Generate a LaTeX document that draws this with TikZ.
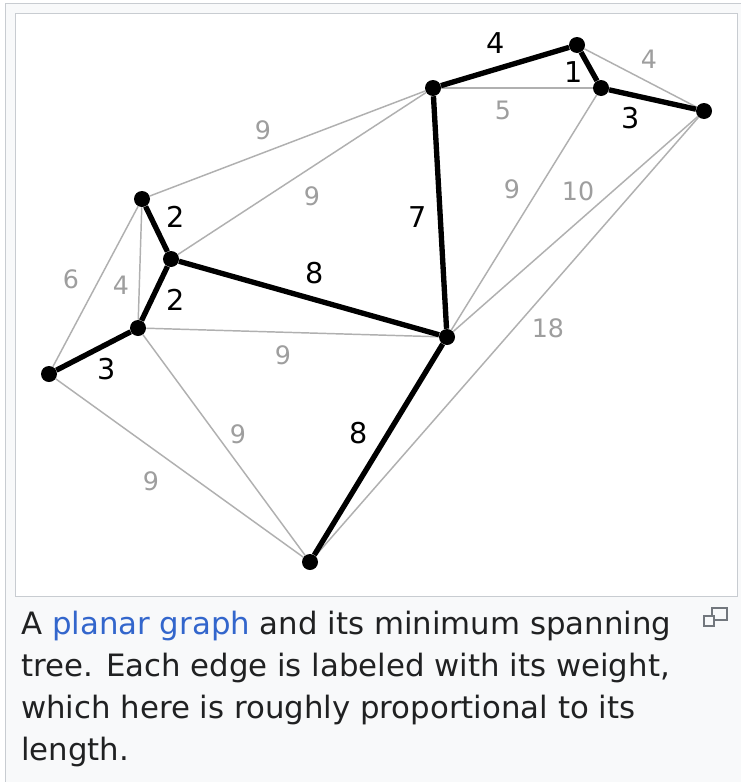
\documentclass[tikz,border=0pt]{standalone}
\usepackage{fontspec}
\setmainfont{DejaVu Sans}
\usetikzlibrary{positioning}
\definecolor{wbg}{HTML}{F8F9FA}
\definecolor{wline}{HTML}{C8CCD1}
\definecolor{wtext}{HTML}{202122}
\definecolor{wlink}{HTML}{3366CC}
\definecolor{wicon}{HTML}{72777D}
\definecolor{edgegray}{HTML}{B0B0B0}
\definecolor{labgray}{HTML}{9E9E9E}

\begin{document}
\begin{tikzpicture}[
    x=0.75pt,y=-0.75pt,
    vtx/.style={circle,fill=black,inner sep=0pt,minimum size=12pt},
    graphedge/.style={draw=edgegray,line width=1.1pt},
    mstedge/.style={draw=black,line width=4pt},
    glab/.style={text=labgray,inner sep=0pt,font=\fontsize{19}{19}\selectfont},
    blab/.style={text=black,inner sep=0pt,font=\fontsize{21.5}{21.5}\selectfont},
    capline/.style={anchor=base west,inner sep=0pt,text=wtext,font=\fontsize{23.1}{31}\selectfont}
]
\useasboundingbox (0,0) rectangle (740,782);

% thumbnail frame
\fill[white] (0,0) rectangle (740,782);
\draw[wline,fill=wbg,line width=0.75pt] (5,3) rectangle (760,800);
\draw[wline,fill=white,line width=0.75pt] (15,13) rectangle (737,596);

% vertices
\node[vtx] (A) at (142,199) {};
\node[vtx] (B) at (171,259) {};
\node[vtx] (C) at (138,328) {};
\node[vtx] (D) at (49,374) {};
\node[vtx] (E) at (433,88) {};
\node[vtx] (F) at (577,45) {};
\node[vtx] (G) at (601,88) {};
\node[vtx] (H) at (704,111) {};
\node[vtx] (I) at (447,337) {};
\node[vtx] (J) at (310,562) {};

% remaining edges of the graph, thin and grey
\draw[graphedge] (D) -- (A) node[glab] at (71,279) {6};
\draw[graphedge] (A) -- (C) node[glab] at (121,285) {4};
\draw[graphedge] (A) -- (E) node[glab] at (263,130) {9};
\draw[graphedge] (B) -- (E) node[glab] at (312,196) {9};
\draw[graphedge] (C) -- (I) node[glab] at (283,355) {9};
\draw[graphedge] (C) -- (J) node[glab] at (238,434) {9};
\draw[graphedge] (D) -- (J) node[glab] at (151,481) {9};
\draw[graphedge] (E) -- (G) node[glab] at (503,110) {5};
\draw[graphedge] (F) -- (H) node[glab] at (649,59) {4};
\draw[graphedge] (G) -- (I) node[glab] at (512,189) {9};
\draw[graphedge] (H) -- (I) node[glab] at (578,191) {10};
\draw[graphedge] (H) -- (J) node[glab] at (548,328) {18};

% minimum spanning tree, thick and black
\draw[mstedge] (A) -- (B) node[blab] at (176,217) {2};
\draw[mstedge] (B) -- (C) node[blab] at (176,300) {2};
\draw[mstedge] (C) -- (D) node[blab] at (107,369) {3};
\draw[mstedge] (B) -- (I) node[blab] at (315,273) {8};
\draw[mstedge] (E) -- (I) node[blab] at (418,217) {7};
\draw[mstedge] (I) -- (J) node[blab] at (359,433) {8};
\draw[mstedge] (E) -- (F) node[blab] at (496,43) {4};
\draw[mstedge] (F) -- (G) node[blab] at (574,72) {1};
\draw[mstedge] (G) -- (H) node[blab] at (631,118) {3};

% caption
\node[capline] (cap1) at (21,634) {A \textcolor{wlink}{planar graph} and its minimum spanning};
\node[capline] (cap2) at (21,676) {tree. Each edge is labeled with its weight,};
\node[capline] (cap3) at (21,718) {which here is roughly proportional to its};
\node[capline] (cap4) at (21,760) {length.};

% enlarge icon
\draw[wicon,line width=1.1pt] (712,608) rectangle (727,620);
\draw[wicon,fill=wbg,line width=1.1pt] (704,616) rectangle (714,626);
\end{tikzpicture}
\end{document}
